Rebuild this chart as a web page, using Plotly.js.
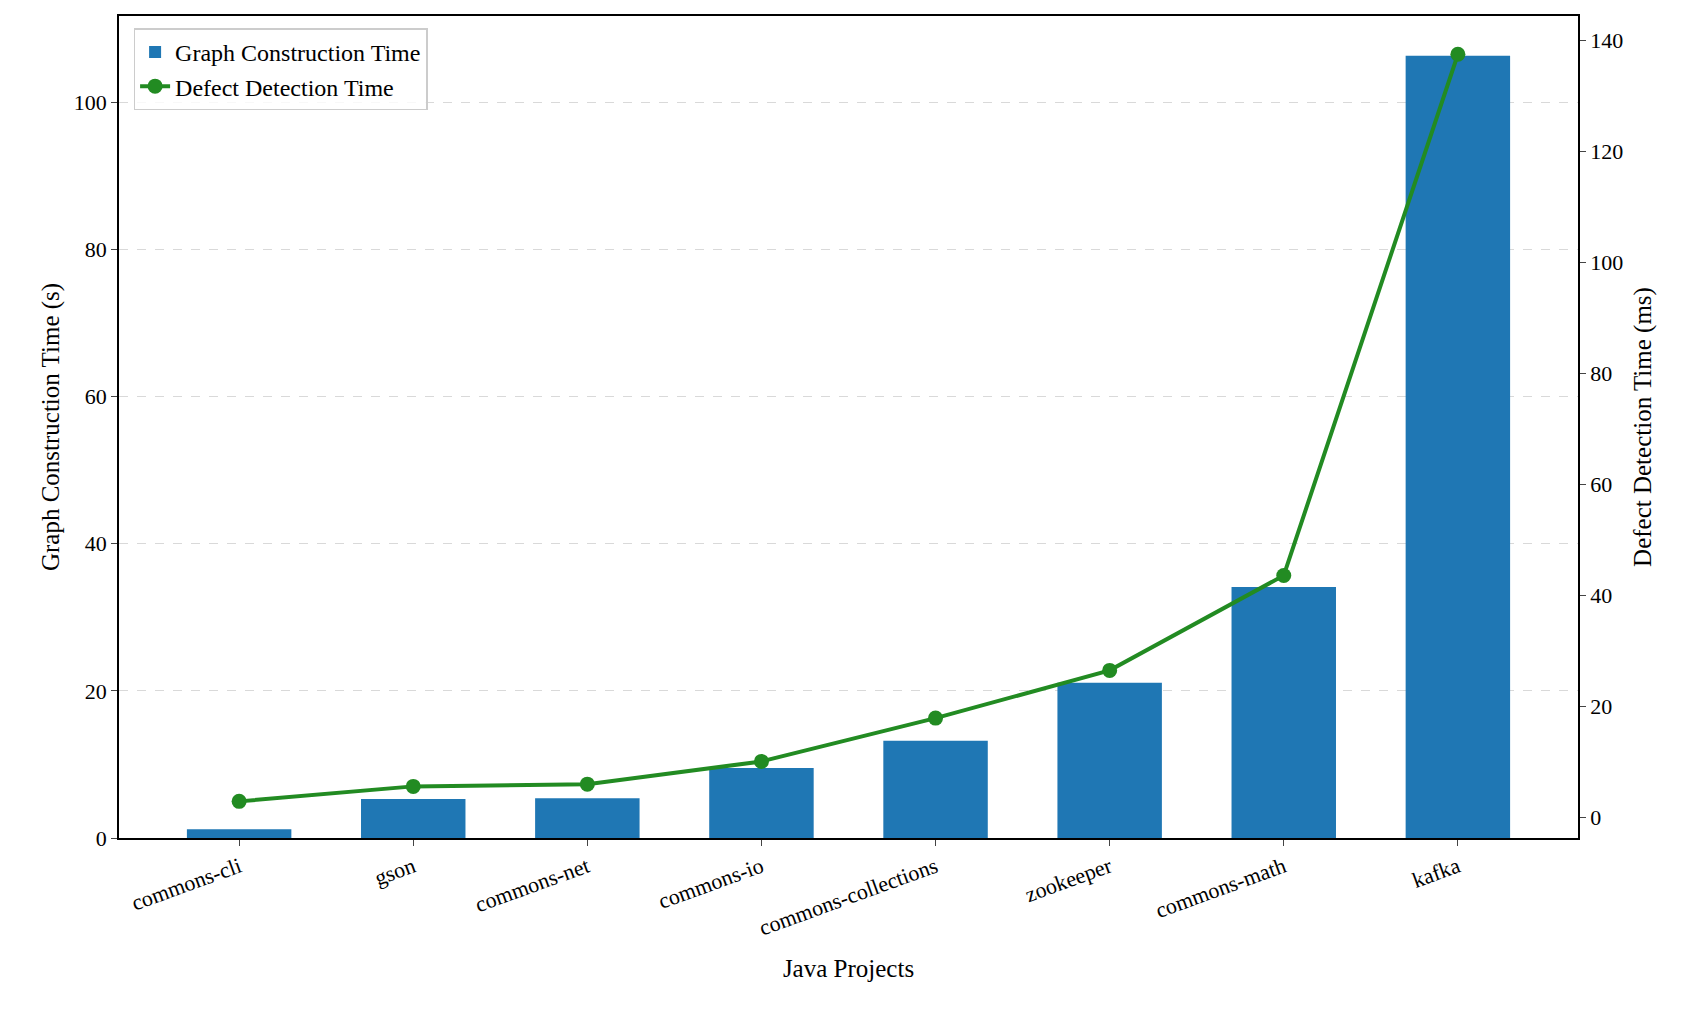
<!DOCTYPE html>
<html><head><meta charset="utf-8">
<script src="https://cdn.plot.ly/plotly-3.0.1.min.js"></script>
<style>body{margin:0}#chart{width:1694px;height:1024px}</style>
</head><body><div id="chart"></div>
<script>
const projects = ["commons-cli", "gson", "commons-net", "commons-io", "commons-collections", "zookeeper", "commons-math", "kafka"];
const constructionTime = [1.2, 5.3, 5.4, 9.5, 13.2, 21.1, 34.1, 106.3];
const detectionTime = [2.9, 5.6, 6.0, 10.1, 17.9, 26.5, 43.6, 137.5];

const font = { family: "Liberation Serif, Times New Roman, serif", color: "#000", size: 22 };

const data = [
  { x: projects, y: constructionTime, type: "bar", name: "Graph Construction Time",
    marker: { color: "#1f77b4" }, width: 0.6 },
  { x: projects, y: detectionTime, type: "scatter", mode: "lines+markers", yaxis: "y2",
    name: "Defect Detection Time", line: { color: "#228b22", width: 4 },
    marker: { color: "#228b22", size: 15 } },
];

const layout = {
  font: font,
  margin: { l: 119, r: 116, t: 16, b: 186 },
  plot_bgcolor: "#fff",
  showlegend: true,
  legend: { x: 0.01, y: 0.985, xanchor: "left", yanchor: "top", bordercolor: "#ccc",
    borderwidth: 1.5, bgcolor: "rgba(255,255,255,0.8)", font: { size: 24 } },
  xaxis: { title: { text: "Java Projects", font: { size: 25 }, standoff: 20 }, tickangle: -20,
    showline: true, linecolor: "#000", linewidth: 1.5, mirror: true, ticks: "outside",
    ticklen: 6, range: [-0.69, 7.69] },
  yaxis: { title: { text: "Graph Construction Time (s)", font: { size: 25 } }, range: [0, 111.7],
    dtick: 20, showgrid: true, gridcolor: "#d9d9d9", griddash: "dash", zeroline: false,
    showline: true, linecolor: "#000", linewidth: 1.5, ticks: "outside", ticklen: 6 },
  yaxis2: { title: { text: "Defect Detection Time (ms)", font: { size: 25 } }, overlaying: "y",
    side: "right", range: [-3.7, 144.4], dtick: 20, showgrid: false, zeroline: false,
    showline: true, linecolor: "#000", linewidth: 1.5, ticks: "outside", ticklen: 6 },
};

Plotly.newPlot("chart", data, layout, { displayModeBar: false });
</script></body></html>
